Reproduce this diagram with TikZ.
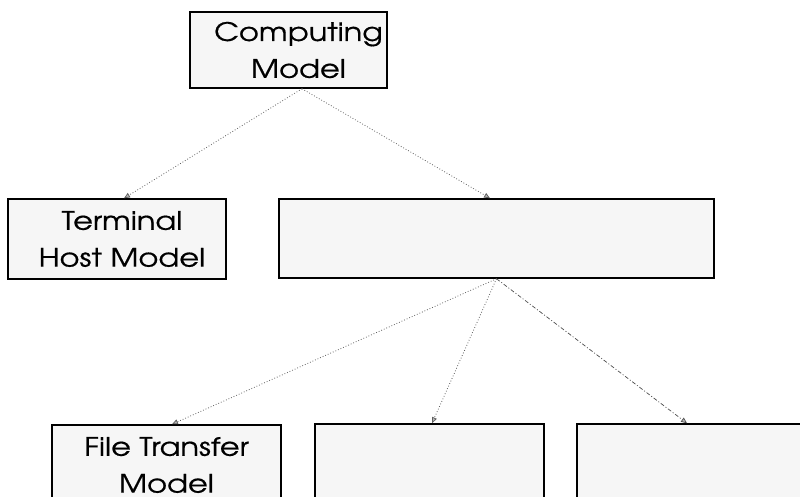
\documentclass[tikz,border=0pt]{standalone}
\usepackage{fontspec}
\setmainfont[FakeStretch=1.2,FakeBold=0.6]{TeX Gyre Adventor}
\usetikzlibrary{arrows.meta}
\tikzset{
  box/.style={draw=black, line width=1.5pt, fill=gray!7, rectangle, inner sep=0pt,
    align=center, font=\fontsize{25.5}{37}\selectfont},
  link/.style={draw=gray!75!black, line width=0.8pt, dotted,
    -{Triangle[length=6pt,width=5pt,fill=gray!55]}},
  dlink/.style={draw=gray!60!black, line width=0.7pt, dash pattern=on 4pt off 2pt on 1pt off 2pt,
    -{Triangle[length=6pt,width=5pt,fill=gray!55]}}
}
\begin{document}
\begin{tikzpicture}[x=1bp,y=-1bp]
\useasboundingbox (0,0) rectangle (800,497);
\clip (0,0) rectangle (800,497);
\fill[white] (0,0) rectangle (800,497);
\node[box, minimum width=197bp, minimum height=76bp] (top) at (288.5,50) {\hspace*{20bp}Computing\\\hspace*{20bp}Model};
\node[box, minimum width=218bp, minimum height=80bp] (term) at (117,239) {\hspace*{10bp}Terminal\\\hspace*{10bp}Host Model};
\node[box, minimum width=435bp, minimum height=79bp] (mid) at (496.5,238.5) {};
\node[box, minimum width=229bp, minimum height=80bp] (ft) at (166.5,465) {File Transfer\\Model};
\node[box, minimum width=229bp, minimum height=80bp] (mb) at (429.5,464) {};
\node[box, minimum width=229bp, minimum height=80bp] (rb) at (691.5,464) {};
\draw[link] ([xshift=13.5bp]top.south) -- ([xshift=7bp]term.north);
\draw[link] ([xshift=13.5bp]top.south) -- ([xshift=-6.5bp]mid.north);
\draw[link] (mid.south) -- ([xshift=5.5bp]ft.north);
\draw[link] (mid.south) -- ([xshift=2.5bp]mb.north);
\draw[dlink] (mid.south) -- ([xshift=-4.5bp]rb.north);
\end{tikzpicture}
\end{document}
